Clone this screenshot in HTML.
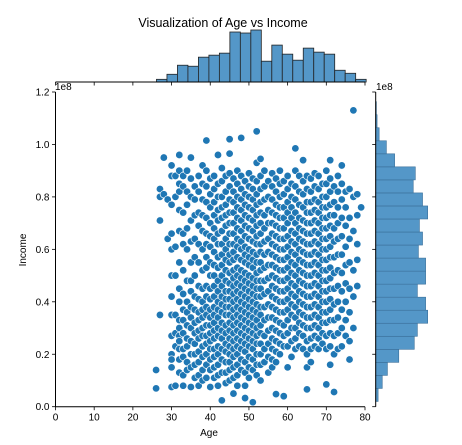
<!DOCTYPE html>
<html><head><meta charset="utf-8"><style>
html,body{margin:0;padding:0;background:#fff}
svg{display:block;font-family:"Liberation Sans","DejaVu Sans",sans-serif}
</style></head><body>
<svg id="chart" width="462" height="445" viewBox="0 0 462 445" xmlns="http://www.w3.org/2000/svg">
<rect width="462" height="445" fill="#fff"/>
<text x="223" y="27" font-size="12.5" text-anchor="middle" fill="#000">Visualization of Age vs Income</text>
<g id="topHist"></g>
<g id="rightHist"></g>
<g id="scatter"></g>
<g id="axes"></g>
<text x="209" y="436" font-size="10" text-anchor="middle">Age</text>
<text x="26" y="250" font-size="10" text-anchor="middle" transform="rotate(-90 26 250)">Income</text>
<text x="55" y="90" font-size="10">1e8</text>
<text x="376" y="90" font-size="10">1e8</text>
</svg>
<script>
const xTicks = [0,10,20,30,40,50,60,70,80];
const yTicks = [0,0.2e8,0.4e8,0.6e8,0.8e8,1.0e8,1.2e8];
const yTickLabels = ["0.0","0.2","0.4","0.6","0.8","1.0","1.2"];
const ageBinStart = 26.1;
const ageBinWidth = 2.71;
const ageCounts = [8,23,50,47,74,80,86,149,146,155,62,110,83,65,101,89,83,35,26,8];
const incBinStart = 2.0e6;
const incBinWidth = 4.97e6;
const incCounts = [7,19,34,67,112,121,151,145,121,145,145,124,136,127,151,136,109,115,55,31,10,4,2];
const ages = [26,27,28,29,30,31,32,33,34,35,36,37,38,39,40,41,42,43,44,45,46,47,48,49,50,51,52,53,54,55,56,57,58,59,60,61,62,63,64,65,66,67,68,69,70,71,72,73,74,75,76,77,78,79];
const incomesM = [
[14,7],[35,71,83,80],[95,81],[79,64],
[92,88,77,66,60,50,42,35,27,20,18,7.5,15],
[88,80,61,50,35,28,23,8],
[96,90,85,82,75,67,55,45,40,33,30,27,25,22,18,13],
[88,84,74,66,62,52,43,37,33,28,22,19,12,8],
[90,82,77,68,60,48,40,36,31,26,23,17,14],
[95,87,80,71,63,55,48,44,38,34,30,25,20,15,7.5],
[84,79,73,64,57,50,42,37,32,28,24,20,16,11],
[88,82,74,69,62,55,46,41,36,33,29,26,21,17,12,8],
[92,85,79,73,67,60,52,45,40,37,34,30,27,23,19,14,10],
[101.5,90,84,78,72,66,62,57,53,46,42,38,35,31,27,24,20,16,11],
[87,81,76,70,65,61,55,50,45,41,37,34,31,28,25,22,18,14,7.5],
[88,83,78,73,68,64,59,54,50,46,42,38,35,32,29,26,22,19,15,11],
[96,85,80,75,71,66,62,57,53,48,44,40,37,34,30,27,23,20,16,12,8],
[91,86,80,76,72,67,62,58,54,50,46,42,39,36,32,29,26,22,18,13,2.4],
[88,82,77,73,69,64,60,56,52,48,44,41,38,35,31,28,24,21,17,13,9],
[102,96.5,89,84,79,74,70,66,62,58,55,51,47,44,41,38,35,32,29,26,23,20,17,14,10],
[87,82,78,74,70,66,62,59,56,52,49,46,43,40,37,34,31,28,25,22,19,15,11,5],
[90,85,80,76,72,68,64,61,57,53,50,47,44,41,38,35,32,29,26,23,20,16,12,8],
[102.5,88,83,79,75,71,67,63,60,56,52,49,46,43,40,37,34,31,28,25,22,18,14],
[86,81,77,73,69,65,61,58,55,51,48,45,42,39,36,33,30,27,24,21,17,13,8,3.3],
[89,84,80,76,72,68,64,60,57,54,50,47,44,41,38,35,32,29,26,23,19,15,11],
[87,83,79,75,71,67,63,59,56,53,49,46,43,40,37,34,31,28,25,22,18,14,1.7],
[105,93,86,81,77,73,69,65,62,58,55,51,48,45,42,39,36,33,30,27,24,20,16,12],
[94.5,88,83,78,74,70,66,62,59,55,52,48,45,42,38,35,31,28,24,20,16,10],
[90,84,79,73,68,63,58,53,48,43,38,33,27,22,17],
[86,80,75,70,64,59,54,49,44,39,34,29,24,19,13],
[89,84,79,74,70,66,62,58,54,50,46,42,38,34,30,26,22,18,15],
[87,82,77,73,69,65,61,57,53,49,45,41,37,33,29,25,21,17,4.8],
[90,85,80,76,72,68,64,60,56,52,48,44,40,36,32,28,24,20],
[86,81,76,72,68,64,60,56,52,48,44,40,36,31,27,23,4],
[88,83,78,74,70,65,61,57,53,49,45,41,37,33,28,23,15],
[85,80,76,72,67,63,59,55,51,47,43,39,35,30,25,19],
[98.5,90,84,79,74,70,66,62,58,54,50,46,42,38,34,30,26,22],
[88,82,77,72,68,64,60,56,52,48,44,40,36,32,28,23],
[94,86,81,76,71,67,63,59,55,51,47,43,39,35,31,27,22],
[88,83,78,74,70,66,62,58,54,50,46,42,38,34,30,25,20,15,6.6],
[87,82,78,74,70,66,62,58,54,50,46,42,38,34,30,26,22,17],
[89,84,79,75,71,67,63,59,55,51,47,43,39,35,31,27,23],
[88,83,78,74,70,66,62,58,54,50,46,42,38,34,30,26,22],
[85,80,76,72,68,64,60,56,52,48,44,40,36,32,28,24],
[90,85,80,76,72,68,64,60,56,52,48,44,40,36,32,27,22,8.5],
[94,87,82,77,73,69,65,61,57,53,49,45,41,37,33,28,23,16],
[84,78,73,68,63,57,51,45,39,33,27,20,5.6],
[88,82,76,70,64,58,52,46,40,34,28,22],
[92,85,79,72,65,58,51,44,37,30,23],
[82,76,69,61,54,47,40,33,27],
[83,72,64,55,45,36,25,18],
[113,80,67,52,42,30],
[81,73,62,56,46],
[76]
];
const NS="http://www.w3.org/2000/svg";
const X0=55.5,X1=365,Y0=406.7,Y1=92;
function xs(a){return X0+(a-0)/(80-0)*(X1-X0);}
function ys(v){return Y0-(v/1.2e8)*(Y0-Y1);}
function mk(tag,attrs,parent){const e=document.createElementNS(NS,tag);for(const k in attrs)e.setAttribute(k,attrs[k]);parent.appendChild(e);return e;}
const th=document.getElementById('topHist');
const topBase=82, topMaxH=52;
const maxA=Math.max(...ageCounts);
ageCounts.forEach((c,i)=>{
  const xa=xs(ageBinStart+i*ageBinWidth), xb=xs(ageBinStart+(i+1)*ageBinWidth);
  const h=c/maxA*topMaxH;
  const r=mk('rect',{x:xa,y:topBase-h,width:xb-xa,height:h,fill:'#5497c8',stroke:'#222',"stroke-width":0.8},th);
  
  
});
const rh=document.getElementById('rightHist');
const rBase=375.7, rMaxW=52;
const maxI=Math.max(...incCounts);
incCounts.forEach((c,i)=>{
  const ya=ys(incBinStart+i*incBinWidth), yb=ys(incBinStart+(i+1)*incBinWidth);
  const w=c/maxI*rMaxW;
  const r=mk('rect',{x:rBase,y:yb,width:w,height:ya-yb,fill:'#5497c8',stroke:'#3a6f99',"stroke-width":0.6},rh);
  
  
});
const sc=document.getElementById('scatter');
ages.forEach((a,i)=>{
  incomesM[i].forEach(v=>{
    const c=mk('circle',{cx:xs(a),cy:ys(v*1e6),r:3.7,fill:'#1f77b4',stroke:'#ffffff',"stroke-width":0.6},sc);
    
    
  });
});
const ax=document.getElementById('axes');
mk('line',{x1:X0,y1:Y1,x2:X0,y2:Y0,stroke:'#000',"stroke-width":1},ax);
mk('line',{x1:X0,y1:Y0,x2:X1,y2:Y0,stroke:'#000',"stroke-width":1},ax);
mk('line',{x1:X0,y1:topBase,x2:X1,y2:topBase,stroke:'#000',"stroke-width":1},ax);
mk('line',{x1:rBase,y1:Y1,x2:rBase,y2:Y0,stroke:'#000',"stroke-width":1},ax);
xTicks.forEach(t=>{
  const x=xs(t);
  mk('line',{x1:x,y1:Y0,x2:x,y2:Y0+3.5,stroke:'#000',"stroke-width":0.8},ax);
  mk('line',{x1:x,y1:topBase,x2:x,y2:topBase+3.5,stroke:'#000',"stroke-width":0.8},ax);
  const tx=mk('text',{x:x,y:Y0+14,"font-size":10,"text-anchor":"middle"},ax);
  tx.textContent=String(t);
  
  
});
yTicks.forEach((t,i)=>{
  const y=ys(t);
  mk('line',{x1:X0,y1:y,x2:X0-3.5,y2:y,stroke:'#000',"stroke-width":0.8},ax);
  mk('line',{x1:rBase,y1:y,x2:rBase-3.5,y2:y,stroke:'#000',"stroke-width":0.8},ax);
  const tx=mk('text',{x:X0-6,y:y+3.5,"font-size":10,"text-anchor":"end"},ax);
  tx.textContent=yTickLabels[i];
  
  
});
</script>
</body></html>
